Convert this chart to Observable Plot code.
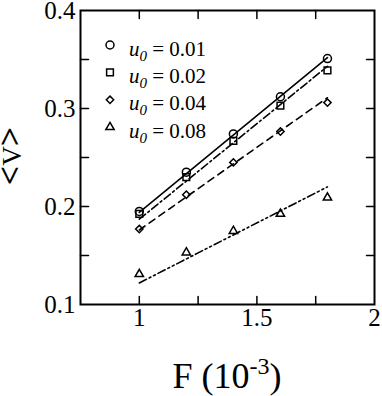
<!DOCTYPE html>
<html><head><meta charset="utf-8">
<script src="https://cdn.jsdelivr.net/npm/d3@7"></script>
<script src="https://cdn.jsdelivr.net/npm/@observablehq/plot@0.6"></script>
<style>html,body{margin:0;padding:0;background:#fff;} svg{display:block;}</style>
</head><body><div id="chart"></div>
<script>
// Simulation points
const F = [1.0, 1.2, 1.4, 1.6, 1.8];
const v_u001 = [0.195, 0.235, 0.274, 0.312, 0.351];
const v_u002 = [0.1925, 0.230, 0.267, 0.303, 0.339];
const v_u004 = [0.177, 0.212, 0.245, 0.2765, 0.306];
const v_u008 = [0.131, 0.153, 0.175, 0.1925, 0.209];
// Fitted lines (end points)
const fitF = [1.0, 1.8];
const fit_u001 = [0.194, 0.352];
const fit_u002 = [0.187, 0.343];
const fit_u004 = [0.176, 0.311];
const fit_u008 = [0.122, 0.220];
// Labels / ticks
const u0Labels = ["0.01", "0.02", "0.04", "0.08"];
const xTickLabels = [1, 1.5, 2];
const xTicks = [1, 1.25, 1.5, 1.75];
const yTickLabels = [0.1, 0.2, 0.3, 0.4];
const yTicks = [0.15, 0.2, 0.25, 0.3, 0.35];

const serif = "'Liberation Serif', 'Times New Roman', Times, serif";
const pointSets = [v_u001, v_u002, v_u004, v_u008];
const fitSets = [fit_u001, fit_u002, fit_u004, fit_u008];
const symbols = ["circle", "square", "diamond2", "triangle"];
const d3Symbols = [d3.symbolCircle, d3.symbolSquare, d3.symbolDiamond2, d3.symbolTriangle];
const radii = [4, 3.8, 3.3, 3.1];
const dashes = [null, "8,3,2,3", "7,5", "8,3,2,3,2,3"];

const tickShape = {draw(ctx, l) { ctx.moveTo(0, 0); ctx.lineTo(0, -l); }};
const tickOpts = {length: 8, anchor: "start", shape: tickShape, stroke: "black", strokeWidth: 1.5};

const marks = [];
fitSets.forEach((fv, s) => {
  const rows = fitF.map((f, i) => ({F: f, v: fv[i]}));
  const o = {x: "F", y: "v", stroke: "black", strokeWidth: 1.6};
  if (dashes[s]) o.strokeDasharray = dashes[s];
  marks.push(Plot.line(rows, o));
});
pointSets.forEach((pv, s) => {
  const rows = F.map((f, i) => ({F: f, v: pv[i]}));
  marks.push(Plot.dot(rows, {x: "F", y: "v", symbol: symbols[s], r: radii[s], stroke: "black", fill: "none", strokeWidth: 1.5}));
});
marks.push(
  Plot.vector(xTicks, {x: d => d, frameAnchor: "bottom", rotate: 0, ...tickOpts}),
  Plot.vector(xTicks, {x: d => d, frameAnchor: "top", rotate: 180, ...tickOpts}),
  Plot.vector(yTicks, {y: d => d, frameAnchor: "left", rotate: 90, ...tickOpts}),
  Plot.vector(yTicks, {y: d => d, frameAnchor: "right", rotate: -90, ...tickOpts}),
  Plot.text(xTickLabels, {x: d => d, frameAnchor: "bottom", lineAnchor: "bottom", dy: 21, text: d => String(d), fontSize: 25, fontFamily: serif, fill: "black"}),
  Plot.text(yTickLabels, {y: d => d, frameAnchor: "left", textAnchor: "end", lineAnchor: "middle", dx: -5, text: d => d3.format(".1f")(d), fontSize: 25, fontFamily: serif, fill: "black"}),
  Plot.frame({stroke: "black", strokeWidth: 2})
);

const chart = Plot.plot({
  width: 382, height: 396,
  marginLeft: 80, marginRight: 8, marginTop: 10, marginBottom: 92,
  style: {background: "white", overflow: "visible"},
  x: {domain: [0.75, 2], axis: null},
  y: {domain: [0.1, 0.4], axis: null},
  marks
});
document.getElementById("chart").appendChild(chart);

const svg = d3.select(chart);
// Legend
const lg = svg.append("g").attr("font-family", serif).attr("font-size", 21)
  .attr("text-anchor", "start").style("white-space", "pre");
u0Labels.forEach((lab, i) => {
  const cy = 45 + i * 27.4;
  lg.append("path")
    .attr("transform", `translate(110,${cy})`)
    .attr("d", d3.symbol(d3Symbols[i], Math.PI * radii[i] * radii[i])())
    .attr("fill", "none").attr("stroke", "black").attr("stroke-width", 1.5);
  const t = lg.append("text").attr("x", 129).attr("y", cy + 10.5).attr("text-anchor", "start");
  t.append("tspan").attr("font-style", "italic").text("u");
  t.append("tspan").attr("font-style", "italic").attr("font-size", 15).attr("dy", 5).text("0");
  t.append("tspan").attr("dy", -5).text(" = " + lab);
});
// X axis label
const xl = svg.append("text").attr("x", 227).attr("y", 388).attr("text-anchor", "middle")
  .attr("font-family", serif).attr("font-size", 36);
xl.append("tspan").text("F (10");
xl.append("tspan").attr("font-size", 24).attr("dy", -14).text("-3");
xl.append("tspan").attr("dy", 14).text(")");
// Y axis label
const yl = svg.append("text").attr("transform", "translate(21,156) rotate(-90)").attr("text-anchor", "middle")
  .attr("font-family", serif);
yl.append("tspan").attr("font-size", 34).attr("font-weight", "bold").text("<");
yl.append("tspan").attr("font-size", 27).text("V");
yl.append("tspan").attr("font-size", 34).attr("font-weight", "bold").text(">");
</script>
</body></html>
